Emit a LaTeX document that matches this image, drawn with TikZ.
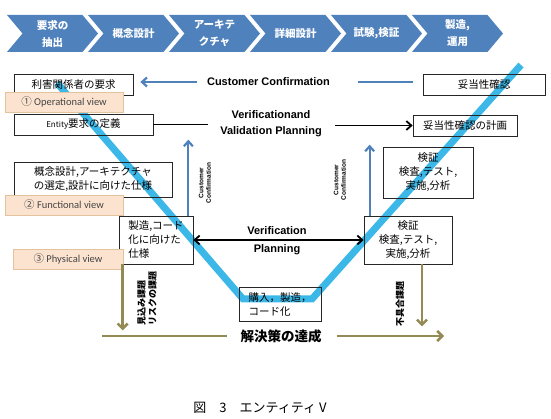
\documentclass[tikz,border=0pt]{standalone}
\usepackage{fontspec}
\setmainfont{Liberation Sans}
\newfontfamily\jp{Noto Sans CJK JP}
\newfontfamily\tagfont{Carlito}
\usetikzlibrary{arrows.meta,shapes.symbols,shadows}
\definecolor{chev}{HTML}{4F81BD}
\definecolor{vline}{HTML}{3CB8E8}
\definecolor{olive}{HTML}{948A54}
\definecolor{peach}{HTML}{FBE3CF}
\definecolor{peachline}{HTML}{E3C39D}
\definecolor{tagtext}{HTML}{454545}
\tikzset{
  stage/.style={signal, signal from=west, signal to=east, signal pointer angle=100,
    fill=chev, text=white, minimum width=91pt, minimum height=37pt, inner sep=0pt,
    font=\jp\bfseries\fontsize{10.5}{17}\selectfont, align=center},
  box/.style={draw=black!85, line width=0.7pt, inner sep=0pt,
    font=\jp\fontsize{10.5}{14}\selectfont, align=center},
  tagbox/.style={fill=peach, draw=peachline, line width=0.5pt, inner sep=0pt,
    minimum height=20pt, font=\tagfont\fontsize{10.5}{11}\selectfont, text=tagtext,
    drop shadow={opacity=0.3,shadow xshift=1.2pt,shadow yshift=-1.2pt}},
  entxt/.style={inner sep=0pt, font=\bfseries\fontsize{11}{16}\selectfont, align=center},
  sidetxt/.style={inner sep=0pt, rotate=90, font=\bfseries\fontsize{6.5}{7.5}\selectfont, align=center},
  issuetxt/.style={inner sep=0pt, rotate=90, font=\jp\bfseries\fontsize{9}{11}\selectfont, align=left},
  bluearr/.style={draw=chev, line width=2.2pt, -{Straight Barb[length=5pt,width=9pt]}},
  blueline/.style={draw=chev, line width=2.2pt},
  blackarr/.style={draw=black, line width=1.8pt},
  olivearr/.style={draw=olive, line width=2.5pt, -{Straight Barb[length=5pt,width=10pt]}},
  oliveline/.style={draw=olive, line width=2.5pt}
}
\begin{document}
\begin{tikzpicture}[x=1pt,y=-1pt]
  \useasboundingbox (0,0) rectangle (551,419);
  % process stages
  \foreach \t [count=\i from 0] in {{要求の\\抽出}, 概念設計, {アーキテ\\クチャ}, 詳細設計, {試験,検証}, {製造,\\運用}}{
    \node[stage] (stage\i) at (52.5+81*\i,33.5) {\t};
  }
  % the V
  \draw[vline, line width=7pt] (57,83) -- (243,299) -- (312,299) -- (521,65);
  % left side
  \node[box,minimum width=119pt,minimum height=21pt] (stake) at (73.5,84.5) {利害関係者の要求};
  \node[box,minimum width=139pt,minimum height=21pt] (entity) at (83.5,124.5) {{\fontsize{8}{9}\selectfont Entity}要求の定義};
  \node[box,minimum width=158pt,minimum height=35pt] (concept) at (93,179.5) {概念設計,アーキテクチャ\\の選定,設計に向けた仕様};
  \node[box,minimum width=74pt,minimum height=48pt,align=left] (mfgspec) at (156,240) {製造,コード\\化に向けた\\仕様};
  \node[box,minimum width=82pt,minimum height=34pt,align=left] (buy) at (280,304) {購入，製造，\\コード化};
  % right side
  \node[box,minimum width=122pt,minimum height=21pt] (valid) at (484,84.5) {妥当性確認};
  \node[box,minimum width=104pt,minimum height=21pt] (vplan) at (465,125.5) {妥当性確認の計画};
  \node[box,minimum width=90pt,minimum height=51pt] (verU) at (428,172.5) {検証\\検査,テスト,\\実施,分析};
  \node[box,minimum width=88pt,minimum height=48pt] (verL) at (408,240) {検証\\検査,テスト,\\実施,分析};
  % views
  \node[tagbox,minimum width=118pt] (opview) at (64,102) {{\jp ①} Operational view};
  \node[tagbox,minimum width=118pt] (fnview) at (64,205) {{\jp ②} Functional view};
  \node[tagbox,minimum width=110pt] (phview) at (68,259) {{\jp ③} Physical view};
  % labels
  \node[entxt] (cc) at (268.5,82) {Customer Confirmation};
  \node[entxt] (vv) at (271,124) {Verificationand\\Validation Planning};
  \node[entxt,font=\bfseries\fontsize{11}{18}\selectfont] (vp) at (277,241) {Verification\\Planning};
  \node[sidetxt] (ccL) at (205,183) {Customer\\Confirmation};
  \node[sidetxt] (ccR) at (340,180) {Customer\\Confirmation};
  \node[issuetxt] (issL) at (147,299) {見込み課題\\リスクの課題};
  \node[issuetxt] (issR) at (400,304) {不具合課題};
  \node[inner sep=0pt,font=\jp\bfseries\fontsize{13.5}{15}\selectfont] (goal) at (281,336) {解決策の達成};
  \node[inner sep=0pt,font=\jp\fontsize{13}{14}\selectfont] (cap) at (260,408) {図　3　エンティティ V};
  % connectors
  \draw[bluearr] ([xshift=-10pt]cc.west) -- ([xshift=7pt]stake.east |- cc.west);
  \draw[blueline] ([xshift=28pt]cc.east) -- ([xshift=-10pt]valid.west |- cc.east);
  \draw[blackarr] (entity.east) -- ([xshift=-12pt]vv.west |- entity.east);
  \draw[blackarr,-{Straight Barb[length=5pt,width=9pt]}] ([xshift=13pt]vv.east |- vplan.west) -- (vplan.west);
  \draw[blackarr,{Straight Barb[length=5pt,width=9pt]}-{Straight Barb[length=5pt,width=9pt]}] (mfgspec.east) -- (verL.west);
  \draw[bluearr] ([xshift=-5pt]mfgspec.north east) -- ++(0,-76);
  \draw[bluearr] ([xshift=6pt]verL.north west) -- ++(0,-71);
  \draw[olivearr] ([xshift=4pt]mfgspec.south west) -- ++(0,66);
  \draw[olivearr] ([xshift=14pt]verL.south) -- ++(0,62);
  \coordinate (solL) at (102,336);
  \coordinate (solR) at (444,336);
  \draw[oliveline] (solL) -- ([xshift=-13pt]goal.west);
  \draw[olivearr] ([xshift=15pt]goal.east) -- (solR);
\end{tikzpicture}
\end{document}
